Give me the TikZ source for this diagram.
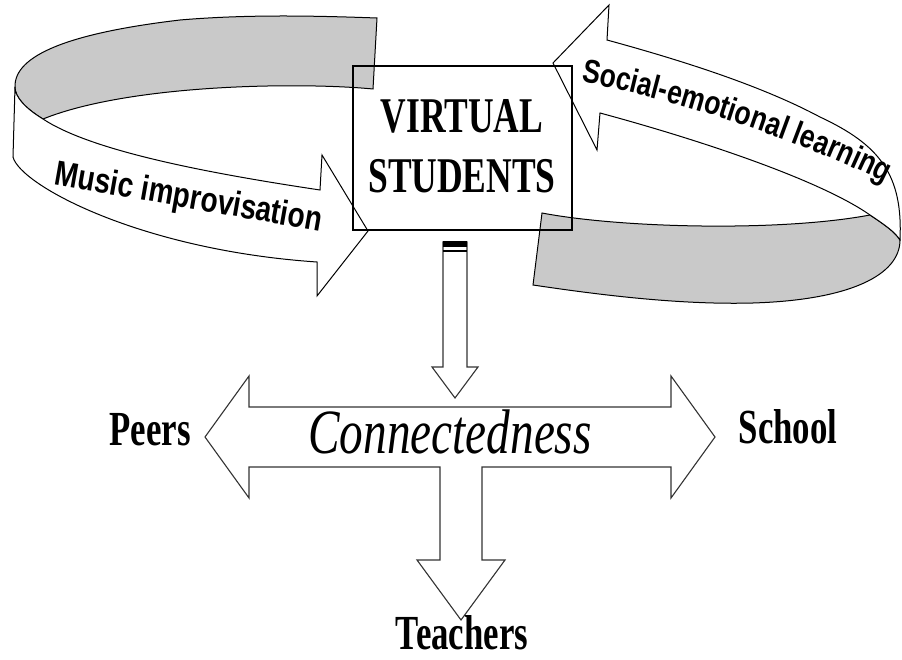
\documentclass[tikz,border=0pt]{standalone}
\usepackage{fontspec}
\setmainfont{Liberation Serif}
\newfontfamily\headserif{Liberation Serif}[FakeStretch=0.71]
\newfontfamily\italserif{Liberation Serif}[FakeStretch=0.75]
\newfontfamily\bandsans{Liberation Sans}[FakeStretch=0.8]
\usetikzlibrary{decorations.text}
\definecolor{bandgray}{RGB}{201,201,201}
\tikzset{
  outline/.style={draw=black, line width=1pt, line join=miter},
  bandback/.style={outline, fill=bandgray},
  bandfront/.style={outline, fill=white},
  blockarrow/.style={draw=black!80, line width=1.1pt, fill=white, line join=miter},
  titlelabel/.style={inner sep=0pt, anchor=base, font=\headserif\bfseries\fontsize{50}{60}\selectfont},
  sidelabel/.style={inner sep=0pt, anchor=base, font=\headserif\bfseries\fontsize{49}{58}\selectfont},
  hublabel/.style={inner sep=0pt, anchor=base, font=\italserif\itshape\fontsize{63}{70}\selectfont},
  bandlabel/.style={inner sep=0pt, anchor=base, font=\bandsans\bfseries\fontsize{35}{40}\selectfont},
  studentbox/.style={draw=black, line width=2.2pt, minimum width=219pt, minimum height=164pt, inner sep=0pt}
}
\begin{document}
\begin{tikzpicture}[x=1pt,y=-1pt]
\useasboundingbox (0,0) rectangle (902,660);

% left loop: shaded back of the band
\path[bandback] (377,18) -- (373,89)
  .. controls (300,82) and (130,84) .. (43,119)
  .. controls (25,108) and (15,97) .. (15,87)
  .. controls (14,55) and (70,33) .. (180,20)
  .. controls (250,14) and (320,16) .. (377,18) -- cycle;
% left loop: front of the band ending in an arrow head
\path[bandfront] (15,87) -- (13,157)
  .. controls (20,185) and (140,250) .. (317,262)
  -- (317,296) -- (368,231) -- (322,155) -- (320,190)
  .. controls (200,172) and (90,150) .. (43,119)
  .. controls (25,108) and (15,97) .. (15,87) -- cycle;

% right loop: shaded back of the band
\path[bandback] (542,213)
  .. controls (620,228) and (780,232) .. (870,215)
  .. controls (885,225) and (895,232) .. (900,240)
  .. controls (900,275) and (850,300) .. (753,303)
  .. controls (680,305) and (600,295) .. (533,285) -- cycle;
% right loop: front of the band ending in an arrow head
\path[bandfront] (607,40) -- (609,5) -- (553,63) -- (597,150) -- (600,113)
  .. controls (700,140) and (820,180) .. (870,215)
  .. controls (885,225) and (895,232) .. (900,240)
  .. controls (903,175) and (880,145) .. (820,117)
  .. controls (760,85) and (680,60) .. (607,40) -- cycle;

% central box
\node[studentbox] (box) at (462.5,148) {};
\node[titlelabel] (virtual) at (462,133) {VIRTUAL};
\node[titlelabel] (students) at (462,193) {STUDENTS};

% labels on the bands
\node[bandlabel, rotate=-10] (music) at (187,208) {Music improvisation};
\path[decorate, decoration={text along path,
    text={|\bandsans\bfseries\fontsize{33}{36}\selectfont|Social-emotional learning}}]
  (581,82) .. controls (655,94) and (800,138) .. (895,188);

% small arrow from the box down to the cross
\path[blockarrow] (443,242) -- (443,367) -- (432,367) -- (455,398)
  -- (478,367) -- (467,367) -- (467,242) -- cycle;
\fill (443,241.5) rectangle (467,247.5);
\draw[line width=2pt] (443,251) -- (467,251);

% three-headed cross arrow
\path[blockarrow] (205,437) -- (249,376) -- (249,407) -- (671,407) -- (671,376)
  -- (715,437) -- (671,498) -- (671,467) -- (482,467) -- (482,560) -- (505,560)
  -- (461,620) -- (417,560) -- (440,560) -- (440,467) -- (249,467) -- (249,498) -- cycle;

\node[hublabel] (hub) at (450,453) {Connectedness};
\node[sidelabel] (peers) at (150,445) {Peers};
\node[sidelabel] (school) at (788,443) {School};
\node[sidelabel] (teachers) at (462,649) {Teachers};
\end{tikzpicture}
\end{document}
